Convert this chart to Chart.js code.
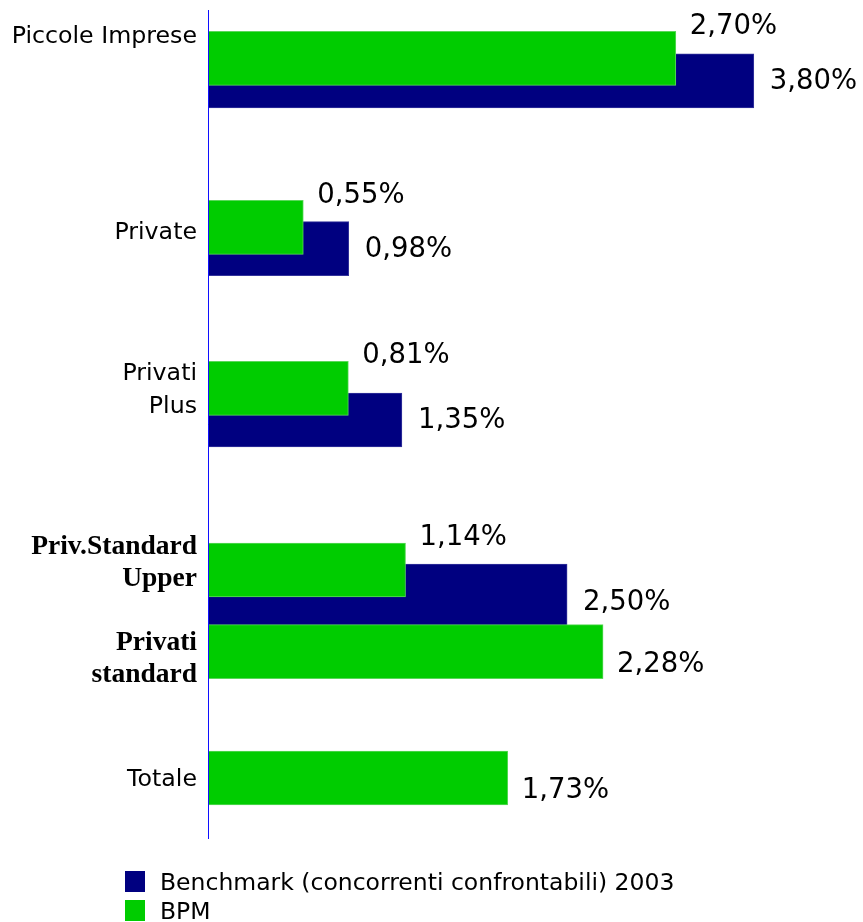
<!DOCTYPE html>
<html lang="it">
<head>
<meta charset="utf-8">
<title>BPM vs Benchmark</title>
<script src="https://cdn.jsdelivr.net/npm/chart.js@4.4.1/dist/chart.umd.min.js"></script>
<style>
  html, body { margin: 0; padding: 0; background: #fff; }
  .wrap { position: relative; width: 863px; height: 922px; overflow: hidden; }
  .legend { position: absolute; left: 125px; top: 867px; font: 23.5px 'DejaVu Sans', Verdana, sans-serif; color: #000; }
  .legend-row { display: flex; align-items: center; height: 29px; }
  .legend-swatch { width: 20px; height: 21px; margin-right: 15px; flex: none; }
</style>
</head>
<body>
<div class="wrap">
  <canvas id="chart"></canvas>
  <div class="legend" id="legend"></div>
</div>
<script>
  // categories and values (percent)
  const categories = ['Piccole Imprese', 'Private', ['Privati', 'Plus'], ['Priv.Standard', 'Upper'], ['Privati', 'standard'], 'Totale'];
  const bpmValues = [2.70, 0.55, 0.81, 1.14, 2.28, 1.73];
  const benchmarkValues = [3.80, 0.98, 1.35, 2.50];
  const benchmarkLabel = 'Benchmark (concorrenti confrontabili) 2003';
  const bpmLabel = 'BPM';

  // row layout on the vertical axis (0 = top)
  const bpmRows = [4.84, 21.74, 37.83, 56.0, 64.17, 76.8];
  const benchmarkRows = [7.09, 23.87, 41.0, 59.6];
  const labelRows = [2.67, 22.3, 38.0, 55.3, 64.9, 77.0];
  const serifRows = [3, 4];

  const GREEN = '#00cc00';
  const NAVY = '#000080';
  const SANS = "'DejaVu Sans', Verdana, sans-serif";

  const fmt = (v) => v.toFixed(2).replace('.', ',') + '%';

  const points = (vals, rows, from, to) =>
    vals.slice(from, to).map((v, i) => ({ x: v, y: rows[from + i] }));

  // last benchmark bar spans the two standard rows, so it is thicker
  const datasets = [
    {
      label: bpmLabel, data: points(bpmValues, bpmRows, 0), xAxisID: 'x',
      backgroundColor: GREEN, borderColor: '#5ad85a', borderWidth: 1, barThickness: 54,
      labelOffset: (i, bar) => (i < benchmarkValues.length
        ? { dx: 14, dy: -bar.height / 2 - 5 }
        : { dx: 14, dy: 13 }),
    },
    {
      label: benchmarkLabel, data: points(benchmarkValues, benchmarkRows, 0, 3), xAxisID: 'xBench',
      backgroundColor: NAVY, borderColor: '#34349c', borderWidth: 1, barThickness: 54,
      labelOffset: () => ({ dx: 16, dy: 1 }),
    },
    {
      label: benchmarkLabel, data: points(benchmarkValues, benchmarkRows, 3), xAxisID: 'xBench',
      backgroundColor: NAVY, borderColor: '#34349c', borderWidth: 1, barThickness: 84,
      labelOffset: () => ({ dx: 16, dy: -3 }),
    },
  ];

  const valueLabels = {
    id: 'valueLabels',
    afterDatasetsDraw(chart) {
      const { ctx } = chart;
      ctx.save();
      ctx.font = '27.5px ' + SANS;
      ctx.fillStyle = '#000';
      ctx.textAlign = 'left';
      ctx.textBaseline = 'middle';
      chart.data.datasets.forEach((ds, di) => {
        chart.getDatasetMeta(di).data.forEach((bar, i) => {
          const { dx, dy } = ds.labelOffset(i, bar);
          ctx.fillText(fmt(ds.data[i].x), bar.x + dx, bar.y + dy);
        });
      });
      ctx.restore();
    },
  };

  const chart = new Chart(document.getElementById('chart'), {
    type: 'bar',
    data: { datasets },
    options: {
      indexAxis: 'y',
      responsive: true,
      maintainAspectRatio: false,
      animation: false,
      layout: { padding: { top: 10, bottom: 84, left: 0, right: 0 } },
      datasets: { bar: { grouped: false } },
      plugins: { legend: { display: false }, tooltip: { enabled: false } },
      scales: {
        x: { type: 'linear', min: 0, max: 3.78, display: false },
        xBench: { type: 'linear', axis: 'x', min: 0, max: 4.56, display: false },
        y: {
          type: 'linear',
          reverse: true,
          offset: false,
          min: 0,
          max: 82.8,
          grid: { display: false, drawTicks: false, offset: false },
          // axis line sits over the bars
          border: { display: true, color: '#1010ff', width: 1, z: 1 },
          afterBuildTicks: (axis) => { axis.ticks = labelRows.map((v) => ({ value: v })); },
          afterFit: (axis) => {
            axis.width = 208;
            axis.paddingTop = 0;
            axis.paddingBottom = 0;
          },
          ticks: {
            autoSkip: false,
            padding: 11,
            color: '#000',
            callback: (v, i) => categories[i],
            font: (c) => (serifRows.includes(c.index)
              ? { family: "'Liberation Serif', 'Times New Roman', serif", size: 27.5, weight: 'bold', lineHeight: 1.17 }
              : { family: SANS, size: 23.7, lineHeight: 1.4 }),
          },
        },
      },
    },
    plugins: [valueLabels],
  });

  // html legend, one entry per series
  const seen = new Set();
  document.getElementById('legend').innerHTML = [...chart.data.datasets].reverse()
    .filter((ds) => !seen.has(ds.label) && seen.add(ds.label))
    .map((ds) => `<div class="legend-row"><span class="legend-swatch" style="background:${ds.backgroundColor}"></span>${ds.label}</div>`)
    .join('');
</script>
</body>
</html>
